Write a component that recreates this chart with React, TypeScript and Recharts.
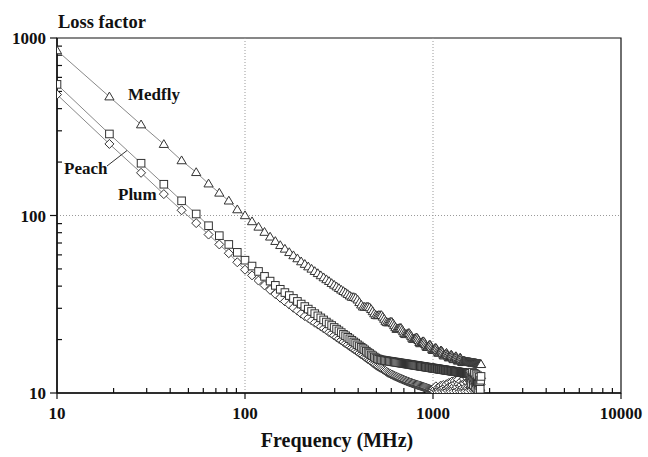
import React from "react";
import { LineChart, Line, XAxis, YAxis, ReferenceLine, ReferenceArea } from "recharts";

// Loss factor vs frequency (log-log), three insect/fruit samples.
// Sweep is 10–1801 MHz in 9 MHz steps, so the markers pile up at high frequency.

const freq = [
  10, 19, 28, 37, 46, 55, 64, 73, 82, 91,
  100, 109, 118, 127, 136, 145, 154, 163, 172, 181,
  190, 199, 208, 217, 226, 235, 244, 253, 262, 271,
  280, 289, 298, 307, 316, 325, 334, 343, 352, 361,
  370, 379, 388, 397, 406, 415, 424, 433, 442, 451,
  460, 469, 478, 487, 496, 505, 514, 523, 532, 541,
  550, 559, 568, 577, 586, 595, 604, 613, 622, 631,
  640, 649, 658, 667, 676, 685, 694, 703, 712, 721,
  730, 739, 748, 757, 766, 775, 784, 793, 802, 811,
  820, 829, 838, 847, 856, 865, 874, 883, 892, 901,
  910, 919, 928, 937, 946, 955, 964, 973, 982, 991,
  1000, 1009, 1018, 1027, 1036, 1045, 1054, 1063, 1072, 1081,
  1090, 1099, 1108, 1117, 1126, 1135, 1144, 1153, 1162, 1171,
  1180, 1189, 1198, 1207, 1216, 1225, 1234, 1243, 1252, 1261,
  1270, 1279, 1288, 1297, 1306, 1315, 1324, 1333, 1342, 1351,
  1360, 1369, 1378, 1387, 1396, 1405, 1414, 1423, 1432, 1441,
  1450, 1459, 1468, 1477, 1486, 1495, 1504, 1513, 1522, 1531,
  1540, 1549, 1558, 1567, 1576, 1585, 1594, 1603, 1612, 1621,
  1630, 1639, 1648, 1657, 1666, 1675, 1684, 1693, 1702, 1711,
  1720, 1729, 1738, 1747, 1756, 1765, 1774, 1783, 1792, 1801,
];

const medfly = [
  850, 467, 325, 252, 204, 175, 151, 134, 121, 108,
  100, 92.5, 86.2, 80.6, 75.8, 71.6, 67.9, 64.8, 62.0, 59.5,
  57.2, 55.0, 53.2, 51.5, 50.0, 48.5, 47.2, 45.9, 44.7, 43.6,
  42.6, 41.5, 40.6, 39.7, 38.9, 38.1, 37.4, 36.7, 36.0, 35.3,
  34.7, 34.6, 34.3, 33.5, 32.4, 31.4, 30.6, 30.5, 30.5, 30.6,
  30.3, 29.6, 28.8, 28.0, 27.4, 27.3, 27.4, 27.4, 27.4, 26.8,
  26.1, 25.4, 25.0, 24.9, 25.0, 25.1, 25.1, 24.6, 24.0, 23.4,
  22.9, 23.0, 23.1, 23.2, 23.2, 22.7, 22.2, 21.7, 21.4, 21.4,
  21.5, 21.7, 21.7, 21.3, 20.9, 20.4, 20.1, 20.1, 20.3, 20.4,
  20.5, 20.2, 19.8, 19.3, 19.0, 19.1, 19.3, 19.5, 19.5, 19.2,
  18.8, 18.4, 18.1, 18.2, 18.4, 18.6, 18.7, 18.4, 18.0, 17.6,
  17.4, 17.4, 17.6, 17.9, 17.9, 17.7, 17.3, 17.0, 16.8, 16.8,
  17.0, 17.3, 17.3, 17.1, 16.8, 16.4, 16.2, 16.4, 16.5, 16.6,
  16.8, 16.5, 16.3, 16.0, 15.8, 15.9, 16.1, 16.3, 16.4, 16.2,
  15.93, 15.65, 15.45, 15.57, 15.77, 15.97, 16.08, 15.88, 15.61, 15.35,
  15.15, 15.27, 15.47, 15.66, 15.79, 15.59, 15.33, 15.06, 14.88, 14.99,
  15.19, 15.15, 15.12, 15.08, 15.05, 15.02, 15.0, 14.98, 14.97, 14.95,
  14.94, 14.92, 14.91, 14.89, 14.88, 14.86, 14.85, 14.83, 14.82, 14.8,
  14.79, 14.77, 14.76, 14.74, 14.73, 14.71, 14.7, 14.68, 14.67, 14.65,
  14.64, 14.62, 14.61, 14.59, 14.58, 14.56, 14.55, 14.53, 14.52, 14.5,
];

const peach = [
  548, 288, 197, 150, 121, 102, 87.6, 77.0, 68.7, 62.0,
  56.0, 51.9, 48.4, 45.4, 42.7, 40.4, 38.4, 36.8, 35.4, 34.1,
  32.8, 31.7, 30.7, 29.7, 28.8, 28.0, 27.2, 26.5, 25.8, 25.1,
  24.5, 24.0, 23.4, 22.9, 22.4, 21.9, 21.4, 21.0, 20.6, 20.2,
  19.8, 19.4, 19.1, 18.7, 18.4, 18.1, 17.8, 17.5, 17.2, 16.9,
  16.7, 16.4, 16.2, 15.95, 15.75, 15.6, 15.5, 15.42, 15.35, 15.31,
  15.26, 15.22, 15.18, 15.14, 15.1, 15.06, 15.03, 14.99, 14.95, 14.92,
  14.88, 14.85, 14.81, 14.78, 14.74, 14.71, 14.68, 14.65, 14.62, 14.59,
  14.56, 14.53, 14.5, 14.47, 14.44, 14.41, 14.38, 14.35, 14.33, 14.3,
  14.27, 14.25, 14.22, 14.2, 14.17, 14.15, 14.12, 14.1, 14.07, 14.05,
  14.03, 14.0, 13.98, 13.96, 13.93, 13.91, 13.89, 13.87, 13.85, 13.82,
  13.81, 13.79, 13.77, 13.75, 13.73, 13.71, 13.69, 13.67, 13.65, 13.63,
  13.61, 13.59, 13.57, 13.56, 13.54, 13.52, 13.5, 13.49, 13.47, 13.45,
  13.43, 13.42, 13.4, 13.38, 13.37, 13.35, 13.34, 13.32, 13.31, 13.29,
  13.28, 13.26, 13.24, 13.23, 13.22, 13.2, 13.19, 13.17, 13.16, 13.15,
  13.13, 13.12, 13.1, 13.09, 13.07, 13.06, 13.05, 13.03, 13.02, 13.01,
  12.99, 12.98, 12.97, 12.95, 12.94, 12.93, 12.92, 12.9, 12.89, 12.88,
  12.87, 12.86, 12.85, 12.4, 11.8, 12.9, 12.2, 11.3, 12.6, 13.1,
  12.0, 11.1, 12.3, 12.9, 11.7, 10.8, 11.9, 12.7, 11.4, 10.6,
  11.6, 12.5, 11.2, 10.4, 11.5, 12.3, 11.0, 10.5, 11.8, 12.4,
];

const plum = [
  480, 253, 174, 132, 107, 90.6, 78.1, 68.7, 61.3, 54.5,
  49.5, 46.0, 43.0, 40.4, 38.1, 36.1, 34.4, 32.8, 31.5, 30.2,
  29.1, 28.0, 27.1, 26.4, 25.6, 24.9, 24.3, 23.7, 23.1, 22.6,
  22.0, 21.6, 21.1, 20.6, 20.2, 19.8, 19.4, 19.0, 18.7, 18.3,
  18.0, 17.7, 17.4, 17.1, 16.8, 16.5, 16.3, 16.0, 15.8, 15.5,
  15.3, 15.1, 14.8, 14.6, 14.4, 14.2, 14.05, 13.9, 13.75, 13.6,
  13.45, 13.3, 13.15, 13.0, 12.9, 12.8, 12.7, 12.6, 12.5, 12.42,
  12.34, 12.26, 12.18, 12.1, 12.03, 11.96, 11.89, 11.82, 11.75, 11.69,
  11.63, 11.57, 11.51, 11.46, 11.41, 11.36, 11.31, 11.26, 11.21, 11.17,
  11.13, 11.09, 11.05, 11.01, 10.97, 10.93, 10.89, 10.85, 10.81, 10.77,
  10.73, 10.69, 10.65, 10.61, 10.57, 10.53, 10.49, 10.45, 10.41, 10.38,
  10.35, 10.6, 10.2, 10.5, 10.9, 10.3, 10.15, 10.7, 10.4, 10.2,
  10.8, 11.0, 10.5, 10.25, 10.6, 11.1, 10.7, 10.3, 10.15, 10.9,
  11.2, 10.6, 10.3, 10.8, 11.4, 10.9, 10.4, 10.2, 11.0, 11.6,
  11.1, 10.5, 10.2, 10.9, 11.7, 11.3, 10.6, 10.25, 10.8, 11.5,
  11.9, 11.2, 10.5, 10.2, 10.9, 11.6, 11.1, 10.4, 10.15, 10.7,
  11.4, 12.0, 11.3, 10.6, 10.2, 10.8, 11.6, 12.2, 11.5, 10.7,
  10.2, 10.9, 11.8, 12.4, 11.6, 10.8, 10.3, 11.0, 11.9, 12.5,
  11.7, 10.9, 10.3, 10.6, 11.4, 12.3, 12.7, 11.8, 10.9, 10.4,
  10.2, 11.1, 12.0, 12.6, 11.9, 11.0, 10.5, 10.3, 11.2, 12.1,
];

const xMajor = [10, 100, 1000, 10000];
const xMinor = [20, 30, 40, 50, 60, 70, 80, 90, 200, 300, 400, 500, 600, 700, 800, 900,
  2000, 3000, 4000, 5000, 6000, 7000, 8000, 9000];
const yMajor = [10, 100, 1000];
const yMinor = [20, 30, 40, 50, 60, 70, 80, 90, 200, 300, 400, 500, 600, 700, 800, 900];

const data = freq.map((f, i) => ({ f, medfly: medfly[i], peach: peach[i], plum: plum[i] }));

const W = 648;
const H = 457;
const INK = "#111";
const SERIF = "'Liberation Serif', 'Times New Roman', serif";
const MARK = "#333";
const LINE = "#888";
const tickStyle = { fontFamily: SERIF, fontWeight: 700, fontSize: 17, fill: INK };

// minor ticks: short inward stubs drawn from a full-height reference line
type LineShape = { x1?: number; y1?: number; x2?: number; y2?: number };

function XMinorStub({ x1 = 0, y1 = 0, y2 = 0 }: LineShape) {
  const yb = Math.max(y1, y2);
  return <line x1={x1} x2={x1} y1={yb} y2={yb - 5} stroke={INK} strokeWidth={1.2} />;
}

function YMinorStub({ x1 = 0, x2 = 0, y1 = 0 }: LineShape) {
  const xl = Math.min(x1, x2);
  return <line x1={xl} x2={xl + 5} y1={y1} y2={y1} stroke={INK} strokeWidth={1.2} />;
}

type DotProps = { cx?: number; cy?: number; index?: number };

function TriangleDot({ cx, cy, index }: DotProps) {
  if (cx == null || cy == null) return <g key={`t${index}`} />;
  const d = `M${cx},${cy - 4.6}L${cx + 4.6},${cy + 3.2}L${cx - 4.6},${cy + 3.2}Z`;
  return <path key={`t${index}`} d={d} fill="#fff" stroke={MARK} strokeWidth={1} />;
}

function SquareDot({ cx, cy, index }: DotProps) {
  if (cx == null || cy == null) return <g key={`s${index}`} />;
  return <rect key={`s${index}`} x={cx - 3.8} y={cy - 3.8} width={7.6} height={7.6} fill="#fff" stroke={MARK} strokeWidth={1} />;
}

function DiamondDot({ cx, cy, index }: DotProps) {
  if (cx == null || cy == null) return <g key={`d${index}`} />;
  const d = `M${cx},${cy - 4.5}L${cx + 4.5},${cy}L${cx},${cy + 4.5}L${cx - 4.5},${cy}Z`;
  return <path key={`d${index}`} d={d} fill="#fff" stroke={MARK} strokeWidth={1} />;
}

export default function App() {
  return (
    <div style={{ position: "relative", width: W, height: H }}>
      <style>{"body{margin:0;overflow:hidden}"}</style>
      <LineChart width={W} height={H} data={data} margin={{ top: 38, right: 27, bottom: 24, left: 12 }}>
        <XAxis
          dataKey="f" type="number" scale="log" domain={[10, 10000]} allowDataOverflow
          ticks={xMajor} interval={0} tickSize={6} tickMargin={8} height={40}
          tick={tickStyle} stroke={INK} strokeWidth={1.5} tickLine={{ stroke: INK, strokeWidth: 1.2 }}
        />
        <YAxis
          type="number" scale="log" domain={[10, 1000]} allowDataOverflow
          ticks={yMajor} interval={0} tickSize={7} tickMargin={4} width={45}
          tick={tickStyle} stroke={INK} strokeWidth={1.5} tickLine={{ stroke: INK, strokeWidth: 1.2 }}
        />

        <ReferenceArea x1={10} x2={10000} y1={10} y2={1000} fill="none" stroke={INK} strokeWidth={1.2} />
        <ReferenceLine x={100} stroke="#9a9a9a" strokeDasharray="1 2" />
        <ReferenceLine x={1000} stroke="#9a9a9a" strokeDasharray="1 2" />
        <ReferenceLine y={100} stroke="#9a9a9a" strokeDasharray="1 2" />
        {xMinor.map((v) => (
          <ReferenceLine key={`xm${v}`} x={v} stroke={INK} shape={XMinorStub} />
        ))}
        {yMinor.map((v) => (
          <ReferenceLine key={`ym${v}`} y={v} stroke={INK} shape={YMinorStub} />
        ))}

        <Line dataKey="plum" type="linear" stroke={LINE} strokeWidth={1} dot={DiamondDot} activeDot={false} isAnimationActive={false} />
        <Line dataKey="peach" type="linear" stroke={LINE} strokeWidth={1} dot={SquareDot} activeDot={false} isAnimationActive={false} />
        <Line dataKey="medfly" type="linear" stroke={LINE} strokeWidth={1} dot={TriangleDot} activeDot={false} isAnimationActive={false} />
      </LineChart>

      {/* titles and series names */}
      <svg width={W} height={H} style={{ position: "absolute", left: 0, top: 0, pointerEvents: "none" }}>
        <g fontFamily={SERIF} fontWeight={700} fill={INK}>
          <text x={58} y={28} fontSize={18.5}>Loss factor</text>
          <text x={337} y={447} fontSize={20} textAnchor="middle">Frequency (MHz)</text>
          <text x={128} y={100} fontSize={17}>Medfly</text>
          <text x={64} y={174} fontSize={17}>Peach</text>
          <text x={118} y={200} fontSize={17}>Plum</text>
        </g>
        <line x1={107} y1={166} x2={127} y2={150.5} stroke="#333" strokeWidth={1} />
      </svg>
    </div>
  );
}
